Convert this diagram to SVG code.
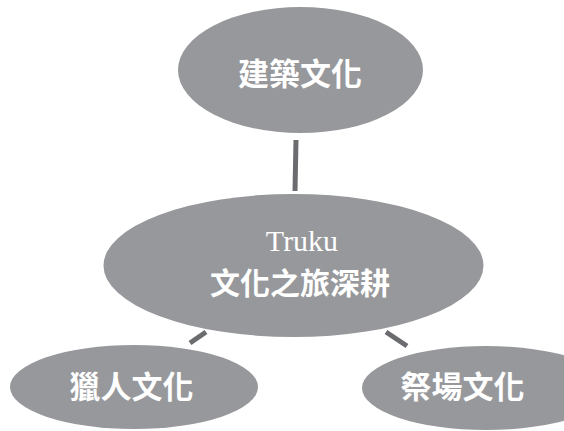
<svg xmlns="http://www.w3.org/2000/svg" width="564" height="431" viewBox="0 0 564 431">
<style>
.node{fill:#97989b;}
.cn{font-family:"Noto Sans CJK TC","Noto Sans CJK SC",sans-serif;font-size:31px;font-weight:700;fill:#ffffff;text-anchor:middle;}
.lat{font-family:"Liberation Serif",serif;font-size:30px;fill:#ffffff;text-anchor:middle;}
.edge{stroke:#6b6c6f;stroke-width:5;fill:none;}
</style>
<rect width="564" height="431" fill="#ffffff"/>
<g id="connectors">
<line class="edge" x1="296" y1="140" x2="295" y2="191"/>
<line class="edge" x1="206" y1="332" x2="190" y2="343"/>
<line class="edge" x1="386" y1="332" x2="407" y2="346"/>
</g>
<g id="node-top">
<ellipse class="node" cx="300.5" cy="70" rx="122.5" ry="63"/>
<text class="cn" x="300" y="85">建築文化</text>
</g>
<g id="node-center">
<ellipse class="node" cx="293.5" cy="265.5" rx="190" ry="71.5"/>
<text class="lat" x="302" y="251">Truku</text>
<text class="cn" x="300" y="294" style="font-size:30px">文化之旅深耕</text>
</g>
<g id="node-left">
<ellipse class="node" cx="134" cy="387" rx="124" ry="42"/>
<text class="cn" x="131.5" y="398">獵人文化</text>
</g>
<g id="node-right">
<ellipse class="node" cx="486" cy="388" rx="124" ry="42"/>
<text class="cn" x="462.5" y="398">祭場文化</text>
</g>
</svg>
